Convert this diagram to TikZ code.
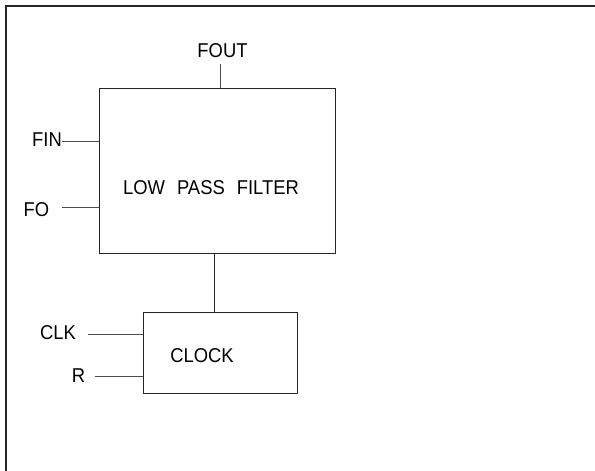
\documentclass[tikz,border=0pt]{standalone}
\usepackage{fontspec}
\setmainfont{Liberation Sans}[FakeStretch=0.92]
\begin{document}
\begin{tikzpicture}[x=1pt,y=-1pt,
  lbl/.style={inner sep=0pt,font=\fontsize{20}{22}\selectfont,text=black},
  blockbox/.style={draw=black!85,line width=0.8pt,inner sep=0pt},
  wire/.style={draw=black!70,line width=0.7pt},
  frameline/.style={draw=black!85,line width=1.2pt}]
\useasboundingbox (0,0) rectangle (595,471);
\fill[white] (0,0) rectangle (595,471);
% outer frame
\coordinate (fbl) at (6,475);
\coordinate (ftl) at (6,6);
\coordinate (ftr) at (600,6);
\draw[frameline] (fbl) -- (ftl) -- (ftr);
% blocks
\node[blockbox,minimum width=236pt,minimum height=165pt] (lpf) at (217,170.5) {};
\node[lbl] (lpftext) at (211,187.5) {LOW\hspace{12pt}PASS\hspace{12pt}FILTER};
\node[blockbox,minimum width=154pt,minimum height=81pt] (clk) at (220,352.5) {};
\node[lbl] (clktext) at (202,355.5) {CLOCK};
% FOUT
\node[lbl] (fout) at (222.5,50.5) {FOUT};
\coordinate (foutend) at (220,64);
\draw[wire] (foutend) -- (foutend |- lpf.north);
% FIN
\node[lbl,anchor=east] (fin) at (62,140) {FIN};
\coordinate (finend) at (62,141);
\draw[wire] (finend) -- (finend -| lpf.west);
% FO
\node[lbl] (fo) at (36.5,210) {FO};
\coordinate (foend) at (62,207);
\draw[wire] (foend) -- (foend -| lpf.west);
% link
\coordinate (linkx) at (214,0);
\draw[blockbox] (linkx |- lpf.south) -- (linkx |- clk.north);
% CLK
\node[lbl] (clkin) at (58,333) {CLK};
\coordinate (clkend) at (88,334);
\draw[wire] (clkend) -- (clkend -| clk.west);
% R
\node[lbl] (rin) at (78.5,376) {R};
\coordinate (rend) at (95,376);
\draw[wire] (rend) -- (rend -| clk.west);
\end{tikzpicture}
\end{document}
